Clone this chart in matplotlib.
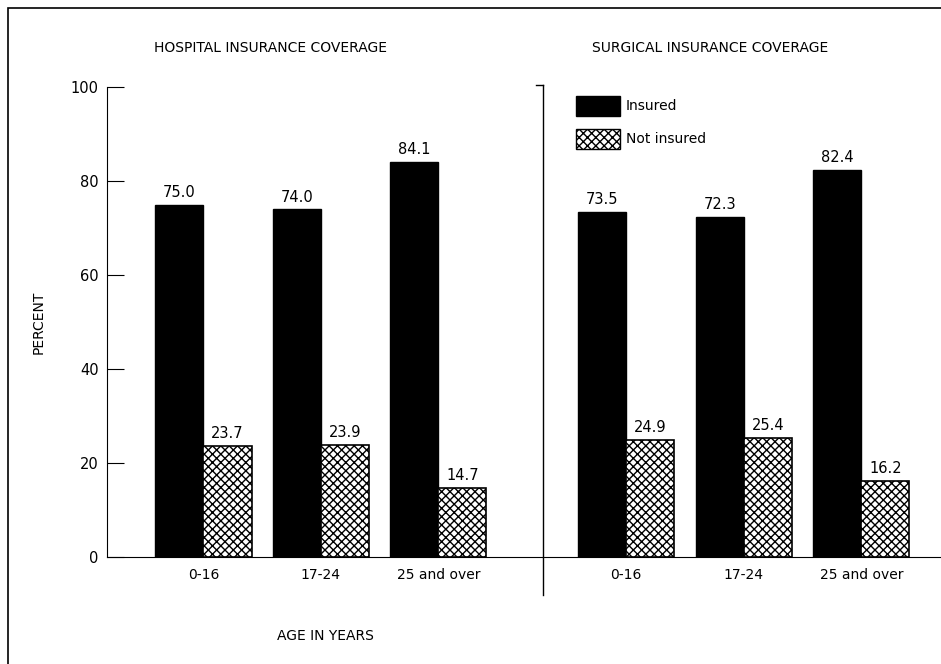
import numpy as np
import matplotlib.pyplot as plt
from matplotlib.patches import Rectangle, Patch

# Datos
grupos = ['0-16', '17-24', '25 and over']
hosp_asegurado = [75.0, 74.0, 84.1]
hosp_no_asegurado = [23.7, 23.9, 14.7]
cirug_asegurado = [73.5, 72.3, 82.4]
cirug_no_asegurado = [24.9, 25.4, 16.2]

ancho = 0.41
pos_izq = np.array([0, 1, 2])
pos_der = pos_izq + 3.6

fig = plt.figure(figsize=(9.41, 6.64), dpi=100)
ax = fig.add_axes([107/941, 1 - 557/664, 833/941, 470/664])

for pos, ins, no_ins in [(pos_izq, hosp_asegurado, hosp_no_asegurado),
                         (pos_der, cirug_asegurado, cirug_no_asegurado)]:
    b1 = ax.bar(pos - ancho/2, ins, ancho, color='black', edgecolor='black')
    b2 = ax.bar(pos + ancho/2, no_ins, ancho, color='white', edgecolor='black',
                hatch='xxxx', linewidth=1.2)
    for r, v in zip(b1, ins):
        ax.text(r.get_x() + r.get_width()/2, v + 1, f'{v:.1f}', ha='center', va='bottom', fontsize=10.5)
    for r, v in zip(b2, no_ins):
        ax.text(r.get_x() + r.get_width()/2, v + 1, f'{v:.1f}', ha='center', va='bottom', fontsize=10.5)

ax.set_xlim(-0.82, 6.27)
ax.set_ylim(0, 100)
ax.set_yticks([0, 20, 40, 60, 80, 100])
ax.tick_params(axis='y', direction='in', length=12, labelsize=10.5, pad=6)
ax.set_xticks(np.concatenate([pos_izq, pos_der]))
ax.set_xticklabels(grupos + grupos, fontsize=10)
ax.tick_params(axis='x', length=0, pad=8)
for s in ['top', 'right']:
    ax.spines[s].set_visible(False)
ax.set_ylabel('PERCENT', fontsize=10, labelpad=18)

# linea divisoria
ax.plot([2.89, 2.89], [-8, 100.5], color='black', lw=1, clip_on=False)
ax.plot([2.83, 2.89], [100.5, 100.5], color='black', lw=1, clip_on=False)

fig.text(270/941, 1 - 48/664, 'HOSPITAL INSURANCE COVERAGE', ha='center', va='center', fontsize=10)
fig.text(710/941, 1 - 48/664, 'SURGICAL INSURANCE COVERAGE', ha='center', va='center', fontsize=10)
fig.text(325/941, 1 - 636/664, 'AGE IN YEARS', ha='center', va='center', fontsize=10)

handles = [Patch(facecolor='black', edgecolor='black', label='Insured'),
           Patch(facecolor='white', edgecolor='black', hatch='xxxx', label='Not insured')]
fig.legend(handles=handles, loc='upper left', bbox_to_anchor=(563/941, 1 - 83/664),
           frameon=False, fontsize=10, handlelength=3.2, handleheight=1.9, handletextpad=0.4,
           labelspacing=0.9)

fig.patches.append(Rectangle((8/941, -0.02), 1.0, 1.02 - 8/664, transform=fig.transFigure,
                             fill=False, edgecolor='black', lw=1.2))

fig.savefig('out.png', dpi=100)
